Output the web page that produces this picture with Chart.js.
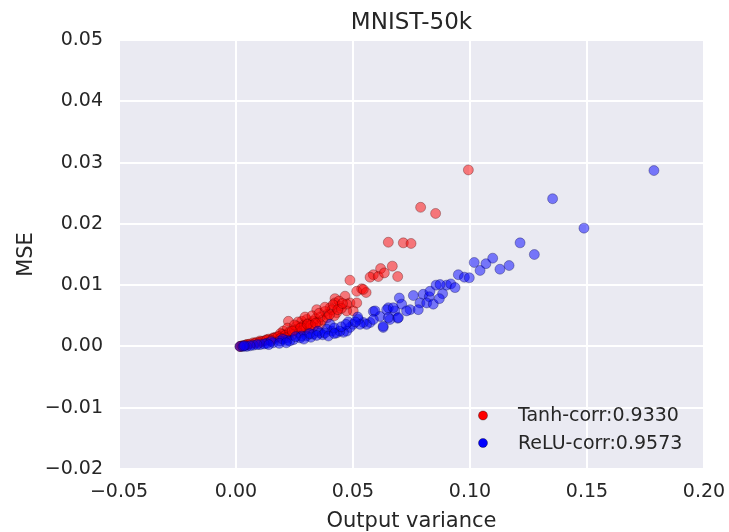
<!DOCTYPE html>
<html>
<head>
<meta charset="utf-8">
<script src="https://cdn.jsdelivr.net/npm/chart.js@4/dist/chart.umd.min.js"></script>
<style>
html,body{margin:0;padding:0;background:#fff;}
canvas{display:block;}
</style>
</head>
<body>
<canvas id="c" width="729" height="532"></canvas>
<script>
const chartTitle = "MNIST-50k";
const xAxisLabel = "Output variance";
const yAxisLabel = "MSE";
const xTicks = [-0.05, 0.00, 0.05, 0.10, 0.15, 0.20];
const yTicks = [-0.02, -0.01, 0.00, 0.01, 0.02, 0.03, 0.04, 0.05];
const seriesLabels = ["Tanh-corr:0.9330", "ReLU-corr:0.9573"];

// Tanh series: [variance, MSE]
const tanhPoints = [
  [0.0993,0.0288],[0.0789,0.0227],[0.0853,0.0217],[0.0651,0.0170],[0.0715,0.0169],[0.0748,0.0168],
  [0.0668,0.0131],[0.0618,0.0127],[0.0587,0.0117],[0.0573,0.0113],[0.0608,0.0114],[0.0634,0.0120],
  [0.0691,0.0114],[0.0487,0.0108],[0.0537,0.0094],[0.0516,0.0090],[0.0556,0.0088],[0.0544,0.0093],
  [0.0466,0.0082],[0.0423,0.0078],[0.0444,0.0066],[0.0487,0.0071],[0.0501,0.0058],[0.0473,0.0058],
  [0.0430,0.0055],[0.0423,0.0071],[0.0473,0.0069],[0.0516,0.0071],[0.0345,0.0060],[0.0402,0.0063],
  [0.0388,0.0052],[0.0302,0.0044],[0.0281,0.0041],[0.0330,0.0041],[0.0359,0.0036],[0.0224,0.0041],
  [0.0259,0.0028],[0.0231,0.0022],[0.0288,0.0025],[0.0316,0.0028],[0.0202,0.0025],[0.0188,0.0017],
  [0.0159,0.0014],[0.0131,0.0011],[0.0103,0.0009],[0.0074,0.0006],[0.0046,0.0003],[0.0017,0.0000],
  [0.020,0.0020],[0.022,0.0030],[0.024,0.0019],[0.026,0.0033],[0.027,0.0022],[0.029,0.0035],
  [0.030,0.0030],[0.031,0.0038],[0.033,0.0032],[0.034,0.0045],[0.035,0.0040],[0.036,0.0048],
  [0.037,0.0043],[0.038,0.0057],[0.039,0.0047],[0.041,0.0060],[0.042,0.0050],[0.044,0.0074],
  [0.045,0.0062],[0.017,0.0015],[0.019,0.0021],[0.014,0.0012],[0.012,0.0009],[0.009,0.0007],
  [0.008,0.0005],[0.006,0.0004],[0.005,0.0003],[0.003,0.0001],[0.002,0.0000],[0.0025,0.0001],
  [0.004,0.0002],[0.011,0.0008],[0.013,0.0010],[0.016,0.0013],[0.018,0.0016],[0.021,0.0018],
  [0.023,0.0024],[0.025,0.0027],[0.028,0.0031],[0.032,0.0034],[0.040,0.0052],
  [0.0265,0.0040],[0.0295,0.0048],[0.0325,0.0050],[0.0355,0.0054],[0.0380,0.0064],[0.0415,0.0068],
  [0.0435,0.0060],[0.0455,0.0070],[0.0250,0.0035],[0.0275,0.0030],[0.0305,0.0036],[0.0340,0.0038],
  [0.0190,0.0013],[0.0215,0.0014],[0.0240,0.0025],[0.0150,0.0010],[0.0100,0.0006]
];

// ReLU series: [variance, MSE]
const reluPoints = [
  [0.1786,0.0287],[0.1353,0.0241],[0.1487,0.0193],[0.1214,0.0169],[0.1275,0.0150],[0.1018,0.0137],
  [0.1068,0.0135],[0.1097,0.0144],[0.1043,0.0124],[0.1128,0.0126],[0.1167,0.0132],[0.0950,0.0117],
  [0.0976,0.0113],[0.0997,0.0112],[0.0855,0.0100],[0.0900,0.0100],[0.0918,0.0102],[0.0936,0.0096],
  [0.0883,0.0086],[0.0800,0.0085],[0.0826,0.0081],[0.0758,0.0083],[0.0698,0.0079],[0.0786,0.0071],
  [0.0815,0.0071],[0.0843,0.0069],[0.0869,0.0078],[0.0708,0.0069],[0.0744,0.0060],[0.0779,0.0060],
  [0.0729,0.0058],[0.0651,0.0063],[0.0679,0.0058],[0.0587,0.0057],[0.0615,0.0049],[0.0658,0.0044],
  [0.0691,0.0046],[0.0629,0.0031],[0.0573,0.0039],[0.0558,0.0036],[0.0544,0.0039],[0.0523,0.0044],
  [0.0501,0.0036],[0.0487,0.0031],[0.0473,0.0025],[0.0459,0.0023],[0.0430,0.0022],[0.0409,0.0025],
  [0.0402,0.0036],[0.0388,0.0028],[0.0359,0.0022],[0.0330,0.0020],[0.0302,0.0017],[0.0274,0.0014],
  [0.0245,0.0011],[0.0217,0.0010],[0.0188,0.0009],[0.0159,0.0006],[0.0131,0.0005],[0.0103,0.0003],
  [0.0074,0.0002],[0.0046,0.0000],[0.0017,0.0000],[0.0872,0.0101],[0.0829,0.0090],[0.0644,0.0060],
  [0.0672,0.0063],[0.0694,0.0047],[0.0651,0.0047],[0.0629,0.0033],[0.0594,0.0058],[0.0587,0.0044],
  [0.0530,0.0036],[0.0444,0.0025],[0.020,0.0012],[0.023,0.0009],[0.028,0.0017],[0.032,0.0015],
  [0.035,0.0025],[0.037,0.0019],[0.015,0.0008],[0.012,0.0004],[0.009,0.0003],[0.006,0.0001],
  [0.003,0.0000],[0.0035,0.0001],[0.042,0.0030],[0.045,0.0032],[0.048,0.0040],[0.052,0.0048],
  [0.0255,0.0016],[0.0290,0.0012],[0.0315,0.0021],[0.0345,0.0018],[0.0380,0.0022],[0.0395,0.0017],
  [0.0420,0.0021],[0.0185,0.0005],[0.0215,0.0006],[0.0140,0.0003],[0.0470,0.0036],[0.0510,0.0040]
];

const TEXT = '#262626';
const FONT = '"DejaVu Sans", sans-serif';

function fmt(v){
  if (Math.abs(v) < 1e-9) v = 0;
  return v.toFixed(2).replace('-', '\u2212');
}
const toXY = arr => arr.map(p => ({x: p[0], y: p[1]}));

const bgPlugin = {
  id: 'bg',
  beforeDraw(chart){
    const {ctx, chartArea:a} = chart;
    ctx.save();
    ctx.fillStyle = '#ffffff';
    ctx.fillRect(0,0,chart.width,chart.height);
    ctx.fillStyle = '#EAEAF2';
    ctx.fillRect(a.left, a.top, a.right-a.left, a.bottom-a.top);
    ctx.restore();
  }
};

const textPlugin = {
  id: 'texts',
  afterDraw(chart){
    const {ctx, chartArea:a} = chart;
    const cx = (a.left + a.right)/2, cy = (a.top + a.bottom)/2;
    ctx.save();
    ctx.fillStyle = TEXT;
    ctx.textAlign = 'center';
    ctx.textBaseline = 'alphabetic';
    ctx.font = '23px ' + FONT;
    ctx.fillText(chartTitle, cx, 29);
    ctx.font = '21px ' + FONT;
    ctx.fillText(xAxisLabel, cx, 527);
    ctx.translate(32, cy);
    ctx.rotate(-Math.PI/2);
    ctx.fillText(yAxisLabel, 0, 0);
    ctx.restore();

    // legend
    ctx.save();
    ctx.font = '19px ' + FONT;
    ctx.textAlign = 'left';
    ctx.textBaseline = 'middle';
    const items = [
      {label: seriesLabels[0], color: '#ff0000', y: 415.5},
      {label: seriesLabels[1], color: '#0000ff', y: 443}
    ];
    items.forEach(it => {
      ctx.beginPath();
      ctx.arc(483, it.y, 4.5, 0, Math.PI*2);
      ctx.fillStyle = it.color;
      ctx.fill();
      ctx.lineWidth = 0.6;
      ctx.strokeStyle = 'rgba(0,0,0,0.6)';
      ctx.stroke();
      ctx.fillStyle = TEXT;
      ctx.fillText(it.label, 518, it.y + 1);
    });
    ctx.restore();
  }
};

new Chart(document.getElementById('c'), {
  type: 'scatter',
  data: {
    datasets: [
      {
        label: seriesLabels[0],
        data: toXY(tanhPoints),
        backgroundColor: 'rgba(255,0,0,0.5)',
        borderColor: 'rgba(60,0,0,0.45)',
        borderWidth: 0.7,
        pointRadius: 5,
        order: 2
      },
      {
        label: seriesLabels[1],
        data: toXY(reluPoints),
        backgroundColor: 'rgba(0,0,255,0.5)',
        borderColor: 'rgba(0,0,60,0.45)',
        borderWidth: 0.7,
        pointRadius: 5,
        order: 1
      }
    ]
  },
  options: {
    responsive: false,
    animation: false,
    devicePixelRatio: 1,
    layout: { padding: { top: 40, right: 25, left: 0, bottom: 0 } },
    plugins: {
      legend: { display: false },
      title: { display: false },
      tooltip: { enabled: false }
    },
    scales: {
      x: {
        type: 'linear',
        min: xTicks[0],
        max: xTicks[xTicks.length-1],
        afterBuildTicks(scale){ scale.ticks = xTicks.map(v => ({value: v})); },
        afterFit(scale){ scale.height = 63; scale.paddingLeft = 0; scale.paddingRight = 0; },
        grid: { color: '#ffffff', lineWidth: 2, drawTicks: false },
        border: { display: false },
        ticks: {
          padding: 12,
          color: TEXT,
          font: { family: FONT, size: 19 },
          maxRotation: 0,
          callback: v => fmt(v)
        }
      },
      y: {
        type: 'linear',
        min: yTicks[0],
        max: yTicks[yTicks.length-1],
        afterBuildTicks(scale){ scale.ticks = yTicks.map(v => ({value: v})); },
        afterFit(scale){ scale.width = 119; scale.paddingTop = 0; scale.paddingBottom = 0; },
        grid: { color: '#ffffff', lineWidth: 2, drawTicks: false },
        border: { display: false },
        ticks: {
          padding: 16,
          color: TEXT,
          font: { family: FONT, size: 19 },
          callback: v => fmt(v)
        }
      }
    }
  },
  plugins: [bgPlugin, textPlugin]
});
</script>
</body>
</html>
